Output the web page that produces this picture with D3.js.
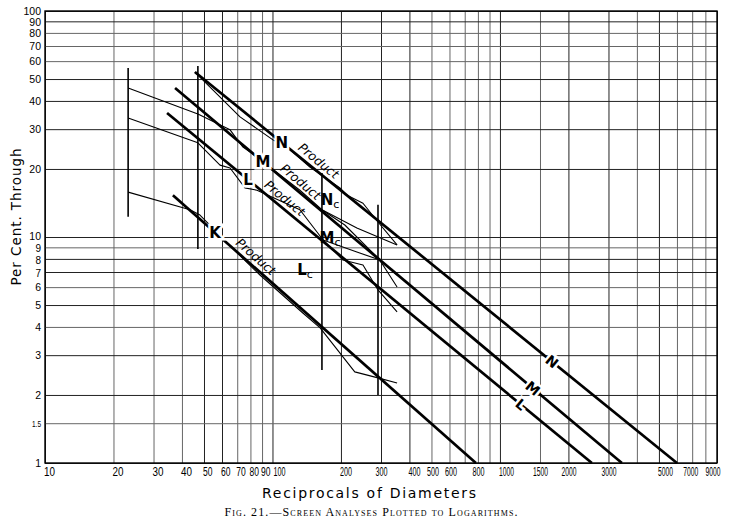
<!DOCTYPE html>
<html><head><meta charset="utf-8">
<script src="https://cdn.jsdelivr.net/npm/d3@7"></script>
<style>body{margin:0;background:#fff} svg{display:block}</style>
</head><body>
<svg id="c" width="734" height="523"></svg>
<script>
// ---------- data ----------
const xGrid = [10,20,30,40,50,60,70,80,90,100,200,300,400,500,600,700,800,900,1000,1500,2000,3000,4000,5000,6000,7000,8000,9000];
const xTickLabels = [10,20,30,40,50,60,70,80,90,100,200,300,400,500,600,800,1000,1500,2000,3000,5000,7000,9000];
const yGrid = [1,1.5,2,3,4,5,6,7,8,9,10,20,30,40,50,60,70,80,90,100];
const yTickLabels = [1,1.5,2,3,4,5,6,7,8,9,10,20,30,40,50,60,70,80,90,100];

// straight fitted lines (reciprocal of diameter, per cent through)
const fitN = [[45.6,53.7],[6000,1]];
const fitM = [[37.3,45.6],[3436,1]];
const fitL = [[34.4,35.4],[2536,1]];
const fitK = [[36.5,15.3],[784,1]];

// screen-analysis curves
const screenN = [[45.6,53.7],[54.8,44.7],[72,34],[100.5,26.9],[117,24.8],[146,20.4],[198,16.5],[213,15.3],[250,14.1],[291,11.65],[353,9.22]];
const screenM = [[23.2,45.6],[47,35],[65.1,29.8],[74.2,25],[86.4,22.4],[132,16.1],[165,13.2],[208,11.3],[291,8.07],[306,7.52],[353,6.01]];
const screenL = [[23.2,33.6],[47,26.1],[58.8,20.8],[65.1,20.2],[75.7,16.5],[85.5,16.1],[132,13.2],[167,9.7],[204,7.91],[250,7.52],[291,5.83],[353,4.66]];
const screenK = [[23.2,15.8],[43.4,13.2],[48,12.5],[55.9,10.7],[63.1,9.41],[88.1,6.79],[136,4.61],[162,3.96],[230,2.53],[291,2.38],[353,2.26]];
const screenExtra1 = [[165,13.2],[235,10.96],[353,9.22]];
const screenExtra2 = [[167,9.7],[235,8.58],[297,7.91],[353,6.79]];

// vertical range bars
const barX = [23.2, 47.0, 165, 291];
const barLow = [12.3, 8.85, 2.58, 2.0];
const barHigh = [55.9, 57.1, 19.2, 13.9];

// label anchors (x value along each fitted line)
const lineNames = ["N","M","L","K"];
const upperLabelX = [110, 90.8, 78.0, 55.9];
const productLabelX = [150.7, 125.6, 106.8, 79.6];
const lowerLabelX = [1693, 1396, 1237];
const cornerLabels = ["N","M","L"];
const cornerX = [179, 179, 139];
const cornerY = [14.6, 9.9, 7.14];

// ---------- drawing ----------
const svg = d3.select('#c');
const x = d3.scaleLog().domain([10,9000]).range([45,717]);
const y = d3.scaleLog().domain([1,100]).range([463,11]);
const fits = [fitN, fitM, fitL, fitK];
const font = "'Liberation Sans', 'DejaVu Sans', sans-serif";

// grid via axes
const gx = svg.append('g').attr('transform', `translate(0,${y(1)})`)
  .call(d3.axisBottom(x).tickValues(xGrid).tickSize(-(y(1)-y(100))).tickFormat(''));
gx.select('.domain').remove();
gx.selectAll('.tick line').attr('stroke', d=> [10,50,60,100,200,300,400,1000,2000,3000,5000,9000].includes(d) ? '#222' : '#666').attr('stroke-width',1);

const gy = svg.append('g').attr('transform', `translate(${x(10)},0)`)
  .call(d3.axisLeft(y).tickValues(yGrid).tickSize(-(x(9000)-x(10))).tickFormat(''));
gy.select('.domain').remove();
gy.selectAll('.tick line').attr('stroke', d=> [1,2,3,5,7,8,10,20,30,40,50,90,100].includes(d) ? '#222' : '#666').attr('stroke-width',1);

// frame
svg.append('rect').attr('x',x(10)).attr('y',y(100)).attr('width',x(9000)-x(10)).attr('height',y(1)-y(100))
  .attr('fill','none').attr('stroke','#000').attr('stroke-width',1.4);

// squeeze a text horizontally to a target width (keeps anchor position)
function squeeze(sel, widthFn, posFn){
  sel.each(function(d){
    const w = this.getComputedTextLength();
    const target = widthFn(d);
    const sx = Math.min(1, target / w);
    const px = posFn(d);
    d3.select(this).attr('x', px/sx).attr('transform', `scale(${sx},1)`);
  });
}

// x tick labels
const startSet = d => d<=200 || d===400 || d===1000 || d===5000;
const ax = svg.append('g').attr('transform', `translate(0,${y(1)})`)
  .call(d3.axisBottom(x).tickValues(xTickLabels).tickSize(0).tickPadding(0).tickFormat(d3.format('d')));
ax.select('.domain').remove();
const xt = ax.selectAll('.tick text')
  .attr('y', 13).attr('dy','0')
  .attr('font-family', font).attr('font-size', 12).attr('fill','#000')
  .attr('text-anchor', d => d===9000 ? 'end' : startSet(d) ? 'start' : 'middle');
squeeze(xt,
  d => { const n=String(d).length; if (d>=50 && d<=90) return 9.5; return n<=2?11:(n===3?12:15); },
  d => d===9000 ? 3 : d===100 ? 0.5 : d===7000 ? -2 : d===500 ? 1 : d===600 ? 1 : startSet(d) ? -1.5 : 0);

// y tick labels
const yDy = {100:'0.3em', 10:'0.2em', 9:'0.45em', 8:'0.5em', 7:'0.4em'};
const ay = svg.append('g').attr('transform', `translate(${x(10)-4},0)`)
  .call(d3.axisLeft(y).tickValues(yTickLabels).tickSize(0).tickPadding(0).tickFormat(d => String(d)));
ay.select('.domain').remove();
const yt = ay.selectAll('.tick text')
  .attr('font-family', font).attr('font-size', d => d===1.5 ? 9 : (d>=7 && d<=9) ? 10 : 10.5).attr('fill','#000')
  .attr('dy', d => yDy[d] || '0.35em');
squeeze(yt, d => { const n=String(d).length; return d===1.5?9:(n===1?6.5:(n===2?13:18)); }, d => 0);

const line = d3.line().x(d=>x(d[0])).y(d=>y(d[1]));

// vertical bars
svg.append('g').selectAll('line').data(barX).join('line')
  .attr('x1',d=>x(d)).attr('x2',d=>x(d))
  .attr('y1',(d,i)=>y(barHigh[i])).attr('y2',(d,i)=>y(barLow[i]))
  .attr('stroke','#000').attr('stroke-width',1.6);

// thin curves
svg.append('g').selectAll('path').data([screenN, screenM, screenL, screenK, screenExtra1, screenExtra2]).join('path')
  .attr('d', line).attr('fill','none').attr('stroke','#000').attr('stroke-width',1.1).attr('stroke-linejoin','round');

// thick fitted lines
svg.append('g').selectAll('path').data(fits).join('path')
  .attr('d', line).attr('fill','none').attr('stroke','#000').attr('stroke-width',2.7);

// helpers for positions along the fitted lines
function yOn(fit, xv){
  const [a,b] = fit;
  const t = (Math.log(xv)-Math.log(a[0]))/(Math.log(b[0])-Math.log(a[0]));
  return Math.exp(Math.log(a[1]) + t*(Math.log(b[1])-Math.log(a[1])));
}
function angleOf(fit){
  const [a,b] = fit;
  return Math.atan2(y(b[1])-y(a[1]), x(b[0])-x(a[0]))*180/Math.PI;
}

const lab = svg.append('g').attr('font-family', "'DejaVu Sans', sans-serif").attr('fill','#000');

// upper line letters with white gap
lineNames.forEach((nm,i)=>{
  const xv = upperLabelX[i], px = x(xv), py = y(yOn(fits[i], xv));
  lab.append('text').attr('x',px).attr('y',py).attr('dy','0.36em').attr('text-anchor','middle')
    .attr('font-size',15).attr('font-weight','bold')
    .attr('stroke','#fff').attr('stroke-width',5).attr('paint-order','stroke').text(nm);
  // "Product" along the line
  const xp = productLabelX[i], ppx = x(xp), ppy = y(yOn(fits[i], xp));
  const ang = angleOf(fits[i]), r = ang*Math.PI/180, off = 9;
  const cx = ppx + off*Math.sin(r), cy = ppy - off*Math.cos(r);
  lab.append('text').attr('transform',`translate(${cx},${cy}) rotate(${ang})`)
    .attr('text-anchor','middle').attr('dy','0.35em').attr('font-size',12.5)
    .attr('font-style','italic').text('Product');
});

// lower rotated letters
lowerLabelX.forEach((xv,i)=>{
  const px = x(xv), py = y(yOn(fits[i], xv)), ang = angleOf(fits[i]);
  lab.append('text').attr('transform',`translate(${px},${py}) rotate(${ang})`)
    .attr('text-anchor','middle').attr('dy','0.36em').attr('font-size',14).attr('font-weight','bold')
    .attr('stroke','#fff').attr('stroke-width',5).attr('paint-order','stroke').text(lineNames[i]);
});

// Nc, Mc, Lc
cornerLabels.forEach((nm,i)=>{
  const t = lab.append('text').attr('x', x(cornerX[i])).attr('y', y(cornerY[i])).attr('dy','0.35em')
    .attr('text-anchor','middle').attr('font-size',15).attr('font-weight','bold');
  t.append('tspan').text(nm);
  t.append('tspan').attr('font-size',11).attr('font-weight','normal').attr('dy','0.25em').text('c');
});

// axis titles
svg.append('text').attr('x',369).attr('y',498).attr('text-anchor','middle')
  .attr('font-family', "'DejaVu Sans', sans-serif").attr('font-size',14)
  .attr('textLength',214).attr('lengthAdjust','spacing').text('Reciprocals of Diameters');
svg.append('text').attr('transform','translate(21,217) rotate(-90)').attr('text-anchor','middle')
  .attr('font-family', "'DejaVu Sans', sans-serif").attr('font-size',13.5)
  .attr('textLength',137).attr('lengthAdjust','spacing').text('Per Cent. Through');

// caption
svg.append('text').attr('x',371).attr('y',516).attr('text-anchor','middle')
  .attr('font-family', "'Liberation Serif', 'DejaVu Serif', serif").attr('font-size',12)
  .attr('font-variant','small-caps').attr('textLength',293).attr('lengthAdjust','spacing')
  .text('Fig. 21.—Screen Analyses Plotted to Logarithms.');
</script>
</body></html>
